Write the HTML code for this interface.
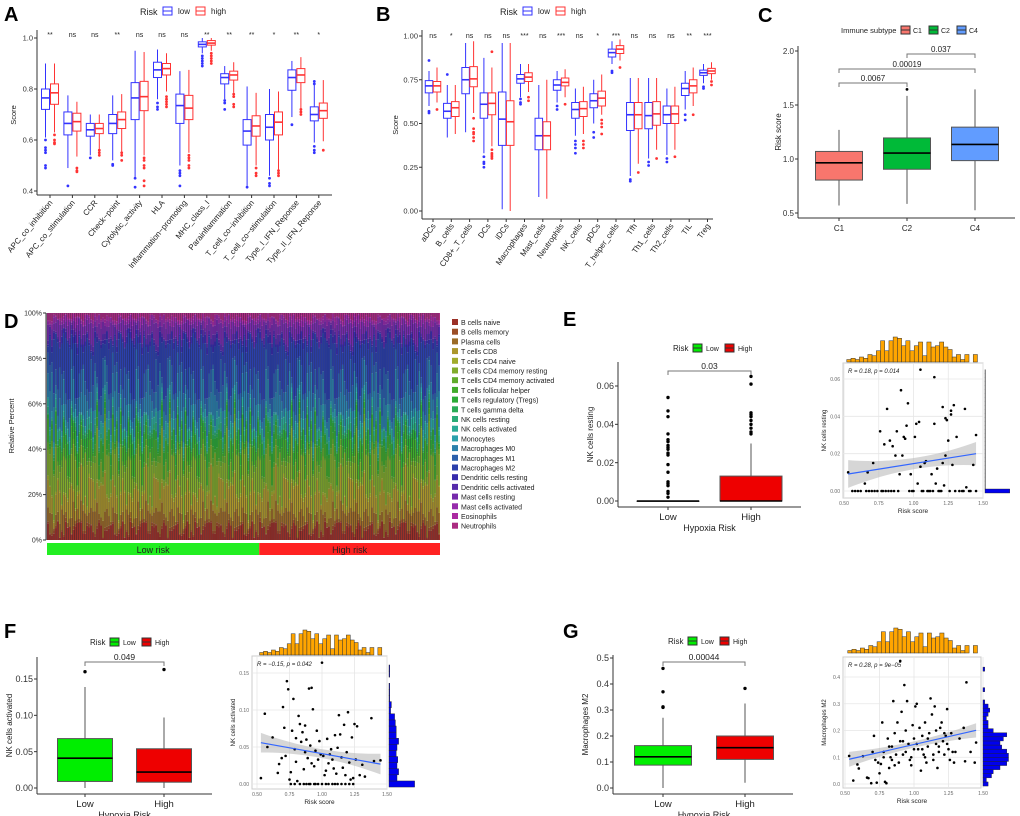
<!DOCTYPE html>
<html><head><meta charset="utf-8"><style>
html,body{margin:0;padding:0;background:#fff}
svg{display:block;font-family:"Liberation Sans",Arial,sans-serif}
</style></head><body>
<svg id="fig" width="1020" height="816" viewBox="0 0 1020 816" xmlns="http://www.w3.org/2000/svg"></svg>
<script>
// ---------------- DATA ----------------
const aCats=["APC_co_inhibition","APC_co_stimulation","CCR","Check−point","Cytolytic_activity","HLA","Inflammation−promoting","MHC_class_I","Parainflammation","T_cell_co−inhibition","T_cell_co−stimulation","Type_I_IFN_Reponse","Type_II_IFN_Reponse"];
const aSig=["**","ns","ns","**","ns","ns","ns","**","**","**","*","**","*"];
// [q1, median, q3, whiskerLow, whiskerHigh]
const aLow=[[0.72,0.765,0.80,0.61,0.90],[0.62,0.665,0.71,0.49,0.775],[0.615,0.64,0.665,0.54,0.70],[0.625,0.665,0.70,0.52,0.775],[0.68,0.765,0.825,0.45,0.95],[0.845,0.875,0.905,0.76,0.955],[0.665,0.735,0.78,0.50,0.87],[0.965,0.975,0.985,0.94,1.0],[0.82,0.845,0.86,0.76,0.89],[0.58,0.635,0.68,0.42,0.81],[0.60,0.65,0.70,0.46,0.80],[0.795,0.845,0.875,0.69,0.91],[0.675,0.70,0.73,0.59,0.83]];
const aHigh=[[0.74,0.785,0.82,0.63,0.90],[0.635,0.672,0.705,0.535,0.75],[0.625,0.645,0.665,0.565,0.70],[0.645,0.68,0.71,0.555,0.78],[0.715,0.77,0.83,0.54,0.945],[0.855,0.88,0.90,0.79,0.94],[0.68,0.725,0.775,0.55,0.875],[0.972,0.98,0.99,0.95,1.0],[0.835,0.855,0.87,0.785,0.905],[0.615,0.655,0.695,0.50,0.785],[0.62,0.67,0.71,0.48,0.79],[0.825,0.855,0.88,0.725,0.925],[0.685,0.715,0.745,0.595,0.835]];
const aLowOut=[[0.49,0.50,0.55,0.56,0.57,0.60],[0.42],[0.53],[0.50,0.505],[0.415,0.45],[0.72,0.73,0.745],[0.42,0.46,0.47,0.48],[0.89,0.90,0.91,0.92,0.93],[0.72,0.745,0.755],[0.415],[0.42,0.43,0.45],[0.66],[0.55,0.56,0.575,0.82,0.83]];
const aHighOut=[[0.585,0.59,0.60,0.62],[0.475,0.48,0.49],[0.54,0.55,0.56],[0.52,0.54,0.55],[0.42,0.44,0.49,0.50,0.52,0.53],[0.73,0.74,0.75,0.76,0.77],[0.49,0.50,0.52,0.53,0.54],[0.90,0.91,0.92,0.93,0.94],[0.73,0.74,0.77,0.78],[0.46,0.47,0.49],[0.46,0.47,0.48],[0.70,0.71,0.72],[0.56]];

const bCats=["aDCs","B_cells","CD8+_T_cells","DCs","iDCs","Macrophages","Mast_cells","Neutrophils","NK_cells","pDCs","T_helper_cells","Tfh","Th1_cells","Th2_cells","TIL","Treg"];
const bSig=["ns","*","ns","ns","ns","***","ns","***","ns","*","***","ns","ns","ns","**","***"];
const bLow=[[0.675,0.715,0.745,0.60,0.80],[0.53,0.57,0.615,0.42,0.72],[0.67,0.75,0.82,0.45,0.96],[0.53,0.61,0.675,0.33,0.875],[0.375,0.525,0.68,0.01,0.96],[0.73,0.755,0.78,0.65,0.84],[0.35,0.43,0.53,0.08,0.72],[0.69,0.72,0.75,0.62,0.80],[0.53,0.58,0.62,0.43,0.70],[0.59,0.63,0.67,0.50,0.75],[0.88,0.905,0.925,0.84,0.97],[0.46,0.55,0.62,0.20,0.76],[0.47,0.545,0.62,0.30,0.76],[0.50,0.55,0.60,0.32,0.70],[0.66,0.70,0.73,0.58,0.80],[0.775,0.79,0.805,0.73,0.84]];
const bHigh=[[0.68,0.715,0.74,0.62,0.82],[0.54,0.59,0.625,0.44,0.72],[0.71,0.755,0.825,0.56,0.97],[0.55,0.615,0.675,0.37,0.82],[0.375,0.51,0.63,0.0,0.96],[0.74,0.765,0.79,0.68,0.84],[0.35,0.43,0.51,0.07,0.75],[0.715,0.735,0.76,0.65,0.81],[0.54,0.585,0.625,0.44,0.71],[0.60,0.645,0.685,0.55,0.78],[0.90,0.925,0.945,0.86,0.98],[0.47,0.55,0.62,0.27,0.76],[0.49,0.555,0.625,0.35,0.76],[0.50,0.555,0.60,0.35,0.71],[0.675,0.715,0.75,0.60,0.82],[0.785,0.80,0.815,0.75,0.85]];
const bLowOut=[[0.56,0.57,0.86],[0.78],[],[0.25,0.27,0.28,0.31],[],[0.61,0.62,0.64],[],[0.58,0.60],[0.33,0.36,0.38,0.40],[0.42,0.45],[0.79,0.80],[0.17,0.18],[0.26,0.28],[0.28,0.30],[0.52,0.55],[0.70,0.71]];
const bHighOut=[[0.58],[],[0.40,0.42,0.44,0.45,0.47,0.53],[0.30,0.31,0.32,0.33,0.35,0.91],[],[0.63,0.65],[],[0.61],[0.36,0.38,0.40],[0.44,0.48,0.50,0.52],[0.82],[0.22],[0.30],[0.31],[0.55],[0.72,0.74]];

const cCats=["C1","C2","C4"];
const cStats=[[0.805,0.965,1.07,0.57,1.27],[0.905,1.055,1.195,0.585,1.585],[0.985,1.135,1.295,0.525,1.645]];
const cOut=[[],[1.645],[]];
const cColors=["#F8766D","#00BA38","#619CFF"];

const dTypes=["B cells naive","B cells memory","Plasma cells","T cells CD8","T cells CD4 naive","T cells CD4 memory resting","T cells CD4 memory activated","T cells follicular helper","T cells regulatory (Tregs)","T cells gamma delta","NK cells resting","NK cells activated","Monocytes","Macrophages M0","Macrophages M1","Macrophages M2","Dendritic cells resting","Dendritic cells activated","Mast cells resting","Mast cells activated","Eosinophils","Neutrophils"];
const dBase=[0.05,0.01,0.06,0.10,0.01,0.13,0.02,0.06,0.04,0.01,0.02,0.03,0.02,0.10,0.08,0.16,0.02,0.02,0.05,0.02,0.01,0.02];
const dVar=[0.6,-0.4,0.9,-0.8,0.2,-0.1,0.7,-0.6,0.4,-0.9,0.1,0.5,-0.3,0.8,-0.7,0.3,-0.2,0.6,-0.5,0.0,0.9,-0.4,0.2,-0.8,0.5,-0.1,0.7,-0.6,0.3,-0.3,0.8,-0.9,0.1];
const dN=200, dLowN=108;

const eBoxLow=[0,0,0,0,0], eBoxHigh=[0,0,0.013,0,0.03];
const eOutLow=[0.002,0.004,0.005,0.008,0.009,0.010,0.015,0.019,0.024,0.025,0.027,0.028,0.029,0.031,0.032,0.035,0.044,0.047,0.054];
const eOutHigh=[0.035,0.036,0.038,0.040,0.042,0.044,0.045,0.046,0.061,0.065];
const eX=[0.53,0.65,0.67,0.71,0.76,0.79,0.81,0.83,0.85,0.87,0.88,0.90,0.91,0.92,0.93,0.94,0.95,0.96,0.98,1.01,1.02,1.03,1.04,1.05,1.05,1.08,1.09,1.13,1.15,1.15,1.16,1.17,1.21,1.21,1.22,1.23,1.23,1.24,1.25,1.27,1.27,1.28,1.29,1.31,1.37,1.38,1.43,1.45,
0.56,0.58,0.60,0.62,0.66,0.68,0.70,0.72,0.74,0.77,0.78,0.80,0.82,0.84,0.86,0.89,0.97,0.99,1.00,1.06,1.07,1.10,1.11,1.12,1.14,1.18,1.19,1.20,1.26,1.30,1.33,1.35,1.36,1.40,1.41,1.45];
const eY=[0.010,0.004,0.010,0.015,0.032,0.025,0.044,0.027,0.024,0.019,0.032,0.009,0.054,0.019,0.029,0.028,0.035,0.047,0.009,0.029,0.036,0.004,0.037,0.065,0.013,0.015,0.016,0.009,0.061,0.036,0.004,0.012,0.045,0.015,0.003,0.019,0.039,0.038,0.027,0.043,0.041,0.014,0.046,0.029,0.044,0.002,0.014,0.030,
0,0,0,0,0,0,0,0,0,0,0,0,0,0,0,0,0,0,0,0,0,0,0,0,0,0,0,0,0,0,0,0,0,0,0,0];
const topHist=[2,3,2,4,3,6,5,9,17,9,17,20,19,13,17,9,13,16,5,16,12,13,16,12,10,4,6,2,6,0,6];
const eRight=[75,1,1,1,1,1,1,1,1,1,1,1,1,1,1,1,1,1,1,1,1,1,1,1,1,1,1,1,1,1,1];

const fBoxLow=[0.009,0.041,0.068,0,0.139], fBoxHigh=[0.008,0.022,0.054,0,0.097];
const fOutLow=[0.16], fOutHigh=[0.163];
const fX=[0.53,0.56,0.58,0.62,0.66,0.67,0.69,0.70,0.71,0.72,0.73,0.74,0.75,0.76,0.77,0.78,0.79,0.80,0.80,0.81,0.82,0.83,0.84,0.85,0.86,0.87,0.87,0.88,0.89,0.90,0.91,0.92,0.92,0.93,0.94,0.95,0.96,0.97,0.98,0.99,1.00,1.01,1.02,1.03,1.04,1.05,1.06,1.07,1.08,1.09,1.10,1.11,1.12,1.13,1.14,1.15,1.16,1.17,1.18,1.19,1.20,1.21,1.22,1.23,1.24,1.25,1.26,1.27,1.29,1.31,1.33,1.38,1.40,1.45,
0.76,0.79,0.83,0.86,0.88,0.91,0.94,0.97,1.00,1.03,1.08,1.12,1.15,1.18,1.21,1.24,0.90,0.95,1.05,1.10];
const fY=[0.008,0.095,0.050,0.063,0.015,0.027,0.035,0.104,0.076,0.038,0.139,0.128,0.006,0.016,0.072,0.115,0.047,0.030,0.062,0.004,0.092,0.081,0.057,0.070,0.020,0.043,0.079,0.060,0.035,0.129,0.052,0.130,0.028,0.101,0.024,0.045,0.072,0.033,0.058,0.040,0.164,0.038,0.012,0.018,0.061,0.028,0.040,0.047,0.033,0.021,0.066,0.014,0.049,0.093,0.067,0.036,0.022,0.080,0.012,0.043,0.097,0.029,0.006,0.063,0.008,0.081,0.033,0.078,0.012,0.026,0.010,0.089,0.031,0.032,
0,0,0,0,0,0,0,0,0,0,0,0,0,0,0,0,0,0,0,0];
const fRight=[32,10,12,10,11,9,10,12,9,9,8,7,2,3,1,1,1,0,1,1];

const gBoxLow=[0.088,0.12,0.163,0.0,0.27], gBoxHigh=[0.11,0.155,0.20,0.02,0.325];
const gOutLow=[0.31,0.312,0.37,0.46], gOutHigh=[0.383];
const gX=[0.53,0.56,0.59,0.60,0.63,0.66,0.67,0.69,0.70,0.71,0.72,0.73,0.74,0.75,0.76,0.77,0.78,0.79,0.80,0.81,0.82,0.83,0.84,0.85,0.86,0.87,0.88,0.89,0.90,0.91,0.92,0.93,0.94,0.95,0.96,0.97,0.98,0.99,1.00,1.01,1.02,1.03,1.04,1.05,1.06,1.07,1.08,1.09,1.10,1.11,1.12,1.13,1.14,1.15,1.16,1.17,1.18,1.19,1.20,1.21,1.22,1.23,1.24,1.25,1.26,1.27,1.28,1.29,1.30,1.33,1.36,1.37,1.38,1.41,1.44,1.45,
0.78,0.82,0.86,0.90,0.94,0.98,1.02,1.06,1.10,1.14,1.18,1.22,0.84,0.92,1.00,1.08,1.16,1.24];
const gY=[0.105,0.013,0.073,0.058,0.104,0.024,0.022,0.003,0.12,0.18,0.09,0.005,0.08,0.04,0.075,0.23,0.12,0.008,0.003,0.17,0.06,0.10,0.14,0.31,0.19,0.11,0.23,0.08,0.46,0.27,0.16,0.37,0.20,0.31,0.15,0.09,0.07,0.22,0.17,0.29,0.30,0.13,0.21,0.05,0.18,0.11,0.23,0.08,0.14,0.19,0.32,0.26,0.09,0.29,0.15,0.06,0.12,0.21,0.23,0.16,0.11,0.18,0.28,0.13,0.09,0.19,0.12,0.08,0.12,0.17,0.21,0.085,0.38,0.12,0.08,0.155,
0.10,0.14,0.07,0.16,0.12,0.10,0.15,0.13,0.17,0.11,0.14,0.19,0.09,0.11,0.13,0.10,0.20,0.15];
const gRight=[3,2,5,6,10,14,15,15,14,11,10,12,14,6,3,3,2,3,4,3,1,0,0,1,0,0,0,0,1,0];

// ---------------- HELPERS ----------------
const NS="http://www.w3.org/2000/svg";
const svg=document.getElementById('fig');
function el(tag,attrs,parent,name){
  const e=document.createElementNS(NS,tag);
  for(const k in attrs) e.setAttribute(k,attrs[k]);
  
  
  (parent||svg).appendChild(e);return e;
}
function txt(x,y,s,attrs,parent,name){
  const a=Object.assign({x:x,y:y,'font-size':8,fill:'#222'},attrs||{});
  const t=el('text',a,parent,name);t.textContent=s;return t;
}
function line(x1,y1,x2,y2,stroke,w,parent,name){return el('line',{x1:x1,y1:y1,x2:x2,y2:y2,stroke:stroke,'stroke-width':w||1},parent,name);}
function group(name){return el('g',{},svg,name);}
function box(g,cx,w,s,y,stroke,fill,outs,r,name){
  line(cx,y(s[4]),cx,y(s[2]),stroke,1,g,name+'-whisker-high');
  line(cx,y(s[0]),cx,y(s[3]),stroke,1,g,name+'-whisker-low');
  el('rect',{x:cx-w/2,y:y(s[2]),width:w,height:Math.max(0.5,y(s[0])-y(s[2])),fill:fill,stroke:stroke,'stroke-width':1},g,name+'-box');
  line(cx-w/2,y(s[1]),cx+w/2,y(s[1]),stroke==='#555'?'#000':stroke,1.6,g,name+'-median');
  (outs||[]).forEach(v=>{el('circle',{cx:cx,cy:y(v),r:r||1.5,fill:stroke==='#555'?'#000':stroke},g,name+'-outlier');});
}
function legendBox(g,x,y,color,fill,name){
  el('rect',{x:x,y:y-4,width:9,height:8,fill:fill,stroke:color,'stroke-width':1},g,name);
  line(x,y,x+9,y,color,1,g,name+'-mid');
}
function yAxis(g,x,y0,y1,ticks,labels,yf,fs,name){
  line(x,y0,x,y1,'#333',1,g,name+'-line');
  ticks.forEach((v,i)=>{line(x-3,yf(v),x,yf(v),'#333',1,g,name+'-tick');
    txt(x-4,yf(v)+fs*0.35,labels[i],{'font-size':fs,'text-anchor':'end',fill:'#333'},g,name+'-label');});
}

// ---------------- PANEL A ----------------
(function(){
  const g=group('panel-a');
  txt(4,21,'A',{'font-size':20,'font-weight':'bold',fill:'#000'},g,'panel-a-letter');
  const y=v=>191-(v-0.4)/0.6*153, x=i=>50+i*22.4;
  txt(140,15,'Risk',{'font-size':9},g,'legend-title');
  legendBox(g,163,11,'#3333ff','#fff','legend-low-key');txt(178,14,'low',{'font-size':8},g,'legend-low');
  legendBox(g,196,11,'#ff3333','#fff','legend-high-key');txt(211,14,'high',{'font-size':8},g,'legend-high');
  yAxis(g,37,30,195,[0.4,0.6,0.8,1.0],['0.4','0.6','0.8','1.0'],y,7.5,'a-y-axis');
  line(37,195,332,195,'#333',1,g,'a-x-axis');
  txt(16,115,'Score',{'font-size':7.5,transform:'rotate(-90 16 115)','text-anchor':'middle'},g,'a-y-title');
  aCats.forEach((c,i)=>{
    box(g,x(i)-4.5,8,aLow[i],y,'#3333ff','#fff',aLowOut[i],1.4,'a-low-'+i);
    box(g,x(i)+4.5,8,aHigh[i],y,'#ff3333','#fff',aHighOut[i],1.4,'a-high-'+i);
    txt(x(i),37,aSig[i],{'font-size':7,'text-anchor':'middle'},g,'a-sig');
    line(x(i),195,x(i),198,'#333',1,g,'a-x-tick');
    txt(x(i)+3,203,c,{'font-size':8,'text-anchor':'end',transform:'rotate(-50 '+(x(i)+3)+' 203)'},g,'a-x-label');
  });
})();

// ---------------- PANEL B ----------------
(function(){
  const g=group('panel-b');
  txt(376,21,'B',{'font-size':20,'font-weight':'bold',fill:'#000'},g,'panel-b-letter');
  const y=v=>211-v*175, x=i=>433+i*18.3;
  txt(500,15,'Risk',{'font-size':9},g,'legend-title');
  legendBox(g,523,11,'#3333ff','#fff','legend-low-key');txt(538,14,'low',{'font-size':8},g,'legend-low');
  legendBox(g,556,11,'#ff3333','#fff','legend-high-key');txt(571,14,'high',{'font-size':8},g,'legend-high');
  yAxis(g,422,30,219,[0,0.25,0.5,0.75,1],['0.00','0.25','0.50','0.75','1.00'],y,7.5,'b-y-axis');
  line(422,219,713,219,'#333',1,g,'b-x-axis');
  txt(398,125,'Score',{'font-size':7.5,transform:'rotate(-90 398 125)','text-anchor':'middle'},g,'b-y-title');
  bCats.forEach((c,i)=>{
    box(g,x(i)-4,7.5,bLow[i],y,'#3333ff','#fff',bLowOut[i],1.4,'b-low-'+i);
    box(g,x(i)+4,7.5,bHigh[i],y,'#ff3333','#fff',bHighOut[i],1.4,'b-high-'+i);
    txt(x(i),38,bSig[i],{'font-size':7,'text-anchor':'middle'},g,'b-sig');
    line(x(i),219,x(i),222,'#333',1,g,'b-x-tick');
    txt(x(i)+3,226,c,{'font-size':8,'text-anchor':'end',transform:'rotate(-55 '+(x(i)+3)+' 226)'},g,'b-x-label');
  });
})();

// ---------------- PANEL C ----------------
(function(){
  const g=group('panel-c');
  txt(758,22,'C',{'font-size':20,'font-weight':'bold',fill:'#000'},g,'panel-c-letter');
  const y=v=>213-(v-0.5)/1.5*162, x=i=>[839,907,975][i];
  txt(841,33,'Immune subtype',{'font-size':7.5},g,'legend-title');
  cCats.forEach((c,i)=>{legendBox(g,901+i*28,30,'#333',cColors[i],'legend-key-'+c);txt(913+i*28,33,c,{'font-size':7},g,'legend-'+c);});
  yAxis(g,798,46,218,[0.5,1,1.5,2],['0.5','1.0','1.5','2.0'],y,8,'c-y-axis');
  line(798,218,1015,218,'#333',1,g,'c-x-axis');
  txt(781,132,'Risk score',{'font-size':8,transform:'rotate(-90 781 132)','text-anchor':'middle'},g,'c-y-title');
  cCats.forEach((c,i)=>{
    box(g,x(i),47,cStats[i],y,'#555',cColors[i],cOut[i],1.4,'c-box-'+c);
    line(x(i),218,x(i),221,'#333',1,g,'c-x-tick');
    txt(x(i),231,c,{'font-size':8,'text-anchor':'middle'},g,'c-x-label');
  });
  [[0,1,83,'0.0067'],[0,2,69,'0.00019'],[1,2,54,'0.037']].forEach(b=>{
    el('path',{d:`M${x(b[0])},${b[2]+4}V${b[2]}H${x(b[1])}V${b[2]+4}`,fill:'none',stroke:'#777','stroke-width':1},g,'c-bracket');
    txt((x(b[0])+x(b[1]))/2,b[2]-2,b[3],{'font-size':8,'text-anchor':'middle'},g,'c-pvalue');
  });
})();

// ---------------- PANEL D ----------------
(function(){
  const g=group('panel-d');
  txt(4,328,'D',{'font-size':20,'font-weight':'bold',fill:'#000'},g,'panel-d-letter');
  const colors=dTypes.map((t,k)=>`hsl(${(5+k*330/22)%360},60%,${k<3?38:42}%)`);
  const x0=47,x1=440,bw=(x1-x0)/dN, y=v=>540-v*227;
  for(let i=0;i<dN;i++){
    const vals=dBase.map((b,k)=>b*(1+0.9*dVar[(i*7+k*5)%dVar.length]));
    const tot=vals.reduce((a,b)=>a+b,0);let acc=0;
    vals.forEach((v,k)=>{const p=v/tot;
      el('rect',{x:x0+i*bw,y:y(acc+p),width:bw,height:p*227,fill:colors[k]},g,'d-bar-segment');acc+=p;});
    line(x0+i*bw,313,x0+i*bw,540,'rgba(20,20,40,0.6)',0.6,g,'d-bar-border');
  }
  yAxis(g,46,313,540,[0,0.2,0.4,0.6,0.8,1],['0%','20%','40%','60%','80%','100%'],y,7,'d-y-axis');
  txt(14,426,'Relative Percent',{'font-size':7.5,transform:'rotate(-90 14 426)','text-anchor':'middle'},g,'d-y-title');
  el('rect',{x:x0,y:543,width:dLowN*bw,height:12,fill:'#22ee22'},g,'d-low-risk-bar');
  el('rect',{x:x0+dLowN*bw,y:543,width:(dN-dLowN)*bw,height:12,fill:'#ff2222'},g,'d-high-risk-bar');
  txt(x0+dLowN*bw/2,553,'Low risk',{'font-size':9,'text-anchor':'middle'},g,'d-low-risk-label');
  txt(x0+dLowN*bw+(dN-dLowN)*bw/2,553,'High risk',{'font-size':9,'text-anchor':'middle'},g,'d-high-risk-label');
  dTypes.forEach((t,k)=>{
    el('rect',{x:452,y:319+k*9.7,width:6,height:6,fill:colors[k]},g,'d-legend-key');
    txt(461,325+k*9.7,t,{'font-size':7},g,'d-legend-entry');
  });
})();

// ------------- BOX + SCATTER PANELS (E,F,G) -------------
function boxPanel(o){
  const g=group(o.name+'-box');
  txt(o.lx,o.ly,o.letter,{'font-size':20,'font-weight':'bold',fill:'#000'},g,o.name+'-letter');
  const yr=o.yr, y=v=>o.y0-(v-0)/(yr)*(o.y0-o.yTop);
  txt(o.legX,o.legY+3,'Risk',{'font-size':8},g,'legend-title');
  legendBox(g,o.legX+20,o.legY,'#333','#00ee00','legend-low-key');txt(o.legX+33,o.legY+3,'Low',{'font-size':7},g,'legend-low');
  legendBox(g,o.legX+52,o.legY,'#333','#ee0000','legend-high-key');txt(o.legX+65,o.legY+3,'High',{'font-size':7},g,'legend-high');
  yAxis(g,o.ax,o.axTop,o.axB,o.ticks,o.tickLabels,y,9,o.name+'-y-axis');
  line(o.ax,o.axB,o.axR,o.axB,'#333',1,g,o.name+'-x-axis');
  box(g,o.cx[0],o.bw,o.low,y,'#555','#00ee00',o.outLow,1.7,o.name+'-low');
  box(g,o.cx[1],o.bw,o.high,y,'#555','#ee0000',o.outHigh,1.7,o.name+'-high');
  ['Low','High'].forEach((s,i)=>{line(o.cx[i],o.axB,o.cx[i],o.axB+3,'#333',1,g,'x-tick');txt(o.cx[i],o.axB+13,s,{'font-size':9.5,'text-anchor':'middle'},g,o.name+'-x-label');});
  txt((o.cx[0]+o.cx[1])/2,o.axB+24,'Hypoxia Risk',{'font-size':9,'text-anchor':'middle'},g,o.name+'-x-title');
  txt(o.ax-25,(o.axTop+o.axB)/2,o.ytitle,{'font-size':8,'text-anchor':'middle',transform:`rotate(-90 ${o.ax-25} ${(o.axTop+o.axB)/2})`},g,o.name+'-y-title');
  el('path',{d:`M${o.cx[0]},${o.brY+4}V${o.brY}H${o.cx[1]}V${o.brY+4}`,fill:'none',stroke:'#777','stroke-width':1},g,o.name+'-bracket');
  txt((o.cx[0]+o.cx[1])/2,o.brY-2,o.p,{'font-size':8.5,'text-anchor':'middle'},g,o.name+'-pvalue');
}
function scatterPanel(o){
  const g=group(o.name+'-scatter');
  const sx=v=>o.x05+(v-0.5)*(o.x15-o.x05), sy=v=>o.y0px-(v/o.ymax)*(o.y0px-o.ymaxpx);
  el('rect',{x:o.px0,y:o.py0,width:o.px1-o.px0,height:o.py1-o.py0,fill:'#fff',stroke:'#ccc','stroke-width':1},g,o.name+'-plot-bg');
  [0.5,0.75,1,1.25,1.5].forEach(v=>{line(sx(v),o.py0,sx(v),o.py1,'#e6e6e6',0.8,g,'grid-x');
    txt(sx(v),o.py1+7,v.toFixed(2),{'font-size':5,'text-anchor':'middle',fill:'#666'},g,o.name+'-x-tick-label');});
  o.yticks.forEach((v,i)=>{line(o.px0,sy(v),o.px1,sy(v),'#e6e6e6',0.8,g,'grid-y');
    txt(o.px0-3,sy(v)+2,o.ylabels[i],{'font-size':5,'text-anchor':'end',fill:'#666'},g,o.name+'-y-tick-label');});
  txt((o.px0+o.px1)/2,o.py1+15,'Risk score',{'font-size':6.5,'text-anchor':'middle'},g,o.name+'-x-title');
  const yc=(o.py0+o.py1)/2;
  txt(o.px0-17,yc,o.ytitle,{'font-size':6,'text-anchor':'middle',transform:`rotate(-90 ${o.px0-17} ${yc})`},g,o.name+'-y-title');
  const n=o.xs.length,mx=o.xs.reduce((a,b)=>a+b,0)/n,my=o.ys.reduce((a,b)=>a+b,0)/n;
  let sxy=0,sxx=0;o.xs.forEach((v,i)=>{sxy+=(v-mx)*(o.ys[i]-my);sxx+=(v-mx)*(v-mx);});
  const b=sxy/sxx,a=my-b*mx,xa=0.53,xb=1.45;
  const hw=v=>o.band*(1+6*(v-mx)*(v-mx));
  let top='',bot='';
  for(let k=0;k<=20;k++){const v=xa+(xb-xa)*k/20;top+=(k?'L':'M')+sx(v)+','+sy(a+b*v+hw(v));}
  for(let k=20;k>=0;k--){const v=xa+(xb-xa)*k/20;bot+='L'+sx(v)+','+sy(a+b*v-hw(v));}
  el('path',{d:top+bot+'Z',fill:'#bbb','fill-opacity':0.6},g,o.name+'-confidence-band');
  o.xs.forEach((v,i)=>el('circle',{cx:sx(v),cy:sy(o.ys[i]),r:1.3,fill:'#000'},g,o.name+'-point'));
  line(sx(xa),sy(a+b*xa),sx(xb),sy(a+b*xb),'#3366ff',1.2,g,o.name+'-regression-line');
  txt(o.px0+5,o.py0+10,o.rtext,{'font-size':6,'font-style':'italic'},g,o.name+'-correlation');
  const bwid=(sx(1.46)-sx(0.52))/topHist.length, mt=Math.max(...topHist);
  topHist.forEach((c,i)=>{if(!c)return;const h=c/mt*(o.hTopB-o.hTopT);
    el('rect',{x:sx(0.52)+i*bwid,y:o.hTopB-h,width:bwid,height:h,fill:'#ffa500',stroke:'#333','stroke-width':0.5},g,o.name+'-top-hist-bar');});
  const bh=(sy(0)-sy(o.rTop))/o.right.length;
  o.right.forEach((c,i)=>{if(!c)return;
    el('rect',{x:o.px1+2,y:sy(0)+bh/2-(i+1)*bh,width:c*o.rScale,height:bh,fill:'#0000ee',stroke:'#222','stroke-width':0.4},g,o.name+'-right-hist-bar');});
}

boxPanel({name:'e',letter:'E',lx:563,ly:326,legX:673,legY:348,ax:618,axTop:362,axB:507,axR:801,y0:501,yTop:386,yr:0.06,
  ticks:[0,0.02,0.04,0.06],tickLabels:['0.00','0.02','0.04','0.06'],cx:[668,751],bw:62,low:eBoxLow,high:eBoxHigh,outLow:eOutLow,outHigh:eOutHigh,
  ytitle:'NK cells resting',brY:371,p:'0.03'});
scatterPanel({name:'e',px0:843,px1:983,py0:363,py1:498,x05:844,x15:983,y0px:491,ymaxpx:379,ymax:0.06,yticks:[0,0.02,0.04,0.06],ylabels:['0.00','0.02','0.04','0.06'],
  xs:eX,ys:eY,band:0.003,rtext:'R = 0.18, p = 0.014',ytitle:'NK cells resting',hTopB:362,hTopT:337,right:eRight,rTop:0.066,rScale:0.33});

boxPanel({name:'f',letter:'F',lx:4,ly:638,legX:90,legY:642,ax:37,axTop:657,axB:794,axR:212,y0:788,yTop:679,yr:0.15,
  ticks:[0,0.05,0.1,0.15],tickLabels:['0.00','0.05','0.10','0.15'],cx:[85,164],bw:55,low:fBoxLow,high:fBoxHigh,outLow:fOutLow,outHigh:fOutHigh,
  ytitle:'NK cells activated',brY:662,p:'0.049'});
scatterPanel({name:'f',px0:252,px1:387,py0:656,py1:789,x05:257,x15:387,y0px:784,ymaxpx:673,ymax:0.15,yticks:[0,0.05,0.1,0.15],ylabels:['0.00','0.05','0.10','0.15'],
  xs:fX,ys:fY,band:0.006,rtext:'R = −0.15, p = 0.042',ytitle:'NK cells activated',hTopB:655,hTopT:630,right:fRight,rScale:0.8,rTop:0.165});

boxPanel({name:'g',letter:'G',lx:563,ly:638,legX:668,legY:641,ax:613,axTop:655,axB:794,axR:793,y0:788,yTop:658,yr:0.5,
  ticks:[0,0.1,0.2,0.3,0.4,0.5],tickLabels:['0.0','0.1','0.2','0.3','0.4','0.5'],cx:[663,745],bw:57,low:gBoxLow,high:gBoxHigh,outLow:gOutLow,outHigh:gOutHigh,
  ytitle:'Macrophages M2',brY:662,p:'0.00044'});
scatterPanel({name:'g',px0:843,px1:981,py0:657,py1:788,x05:845,x15:983,y0px:784,ymaxpx:677,ymax:0.4,yticks:[0,0.1,0.2,0.3,0.4],ylabels:['0.0','0.1','0.2','0.3','0.4'],
  xs:gX,ys:gY,band:0.012,rtext:'R = 0.28, p = 9e−05',ytitle:'Macrophages M2',hTopB:653,hTopT:628,right:gRight,rScale:1.7,rTop:0.46});
</script>
</body></html>
